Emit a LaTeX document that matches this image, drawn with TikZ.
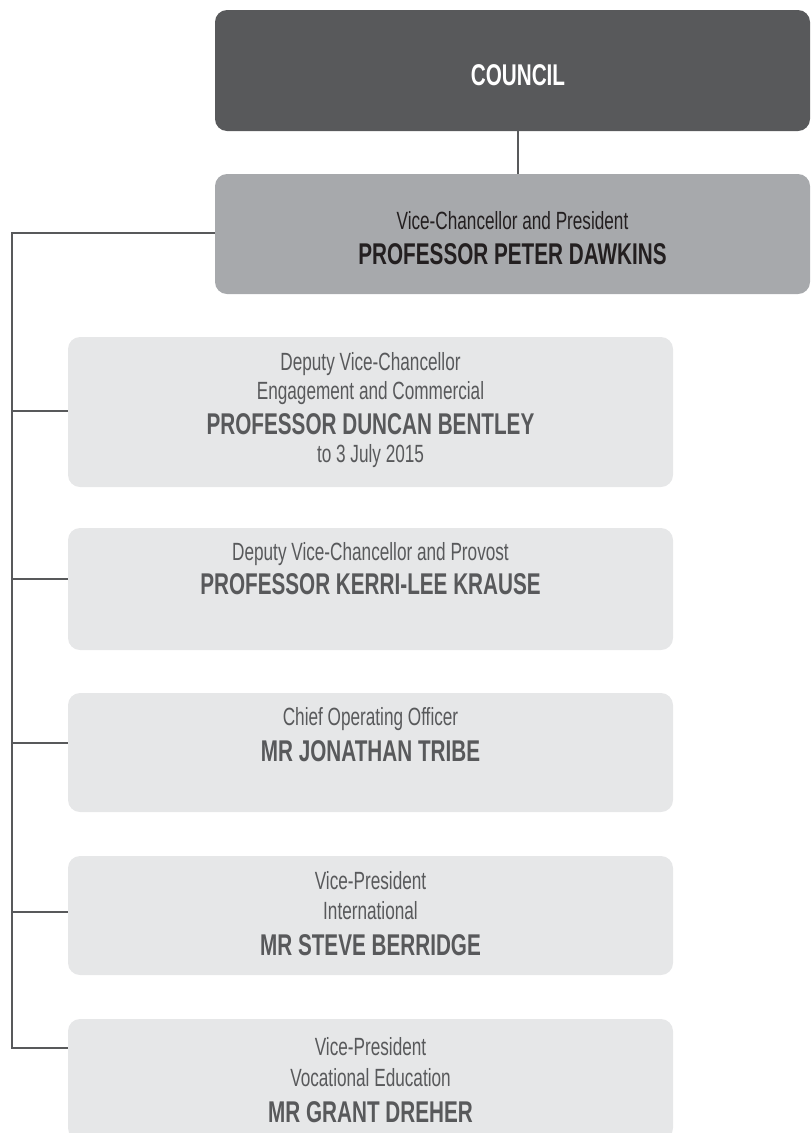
\documentclass[tikz,border=0pt]{standalone}
\usepackage{fontspec}
\setmainfont[FakeStretch=0.69]{Liberation Sans}
\definecolor{councilfill}{HTML}{58595B}
\definecolor{vcfill}{HTML}{A7A9AC}
\definecolor{lightfill}{HTML}{E6E7E8}
\definecolor{linegray}{HTML}{58595B}
\definecolor{textgray}{HTML}{58595B}
\definecolor{textdark}{HTML}{231F20}
\tikzset{
  boxbase/.style={rectangle,rounded corners=12pt,inner sep=0pt,draw=none},
  councilbox/.style={boxbase,fill=councilfill,minimum width=595pt,minimum height=121pt},
  vcbox/.style={boxbase,fill=vcfill,minimum width=595pt,minimum height=120pt},
  lightbox/.style={boxbase,fill=lightfill,minimum width=605pt},
  titletext/.style={inner sep=0pt,font=\fontsize{24.9}{24.9}\selectfont,text=textgray},
  nametext/.style={inner sep=0pt,font=\fontsize{30}{30}\selectfont\bfseries,text=textgray},
  conn/.style={draw=linegray,line width=2.2pt}}
\begin{document}
\begin{tikzpicture}[x=1pt,y=-1pt]
\useasboundingbox (0,0) rectangle (811,1133);
\clip (0,0) rectangle (811,1133);
% boxes
\node[councilbox] (council) at (512.5,70.5) {};
\node[vcbox] (vc) at (512.5,234) {};
\node[lightbox,minimum height=150pt] (b1) at (370.5,412) {};
\node[lightbox,minimum height=122pt] (b2) at (370.5,589) {};
\node[lightbox,minimum height=119pt] (b3) at (370.5,752.5) {};
\node[lightbox,minimum height=119pt] (b4) at (370.5,915.5) {};
\node[lightbox,minimum height=121pt] (b5) at (370.5,1079.5) {};
% texts
\node[nametext,text=white] (tcouncil) at (518,75) {COUNCIL};
\node[titletext,text=textdark] (tvc1) at (512.5,221) {Vice-Chancellor and President};
\node[nametext,text=textdark] (tvc2) at (512.5,254) {PROFESSOR PETER DAWKINS};
\node[titletext] (t1a) at (370.5,364) {Deputy Vice-Chancellor};
\node[titletext] (t1b) at (370.5,393) {Engagement and Commercial};
\node[nametext] (t1c) at (370.5,424) {PROFESSOR DUNCAN BENTLEY};
\node[titletext] (t1d) at (370.5,456) {to 3 July 2015};
\node[titletext] (t2a) at (370.5,554) {Deputy Vice-Chancellor and Provost};
\node[nametext] (t2b) at (370.5,584) {PROFESSOR KERRI-LEE KRAUSE};
\node[titletext] (t3a) at (370.5,719) {Chief Operating Officer};
\node[nametext] (t3b) at (370.5,751) {MR JONATHAN TRIBE};
\node[titletext] (t4a) at (370.5,881) {Vice-President};
\node[titletext] (t4b) at (370.5,911) {International};
\node[nametext] (t4c) at (370.5,945) {MR STEVE BERRIDGE};
\node[titletext] (t5a) at (370.5,1047) {Vice-President};
\node[titletext] (t5b) at (370.5,1078) {Vocational Education};
\node[nametext] (t5c) at (370.5,1112) {MR GRANT DREHER};
% connectors
\coordinate (cx) at (518,0);
\draw[conn] (council.south -| cx) -- (vc.north -| cx);
\coordinate (top) at (12,233);
\coordinate (j1) at (12,411);
\coordinate (j2) at (12,579);
\coordinate (j3) at (12,743);
\coordinate (j4) at (12,912);
\coordinate (j5) at (12,1048);
\draw[conn] (vc.west |- top) -- (top) -- (j5) -- (b5.west |- j5);
\draw[conn] (j1) -- (b1.west |- j1);
\draw[conn] (j2) -- (b2.west |- j2);
\draw[conn] (j3) -- (b3.west |- j3);
\draw[conn] (j4) -- (b4.west |- j4);
\end{tikzpicture}
\end{document}
